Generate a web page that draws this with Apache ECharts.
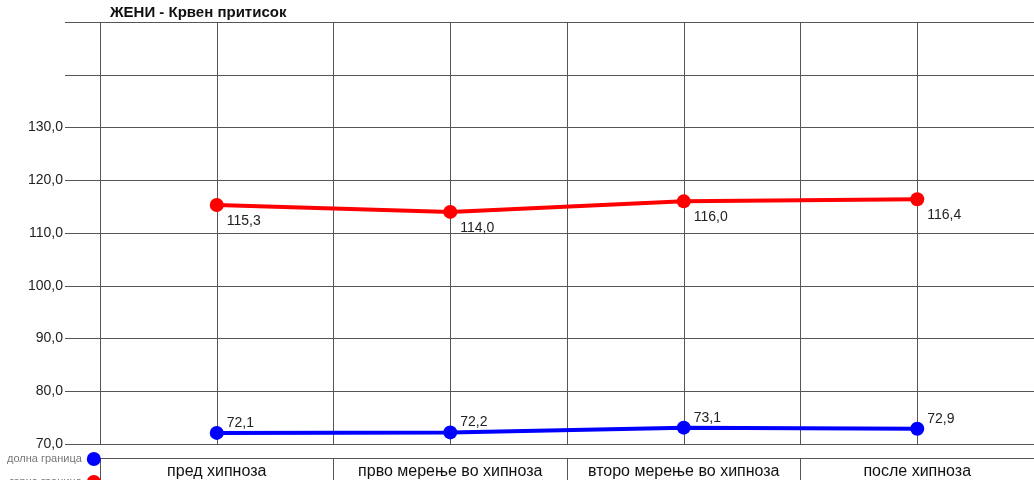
<!DOCTYPE html>
<html>
<head>
<meta charset="utf-8">
<script src="https://cdn.jsdelivr.net/npm/echarts@6/dist/echarts.min.js"></script>
<style>
  html, body { margin: 0; padding: 0; background: #fff; }
  #chart { width: 1034px; height: 480px; }
</style>
</head>
<body>
<div id="chart"></div>
<script>
// Blood pressure of women before, during and after hypnosis
const titleText = 'ЖЕНИ - Крвен притисок';
const categories = ['пред хипноза', 'прво мерење во хипноза', 'второ мерење во хипноза', 'после хипноза'];
const lowerName = 'долна граница';
const upperName = 'горна граница';
const lowerValues = [72.1, 72.2, 73.1, 72.9];
const upperValues = [115.3, 114.0, 116.0, 116.4];
const yLabelledMax = 130;

const fmt = v => v.toFixed(1).replace('.', ',');
const gridColor = '#555';
const textFont = 'Liberation Sans, Arial, sans-serif';
const yRange = { min: 70, max: 150, interval: 10 };

const chart = echarts.init(document.getElementById('chart'), null, { renderer: 'canvas' });

chart.setOption({
  animation: false,
  backgroundColor: '#fff',
  title: {
    text: titleText,
    left: 105, top: 0,
    textStyle: { fontFamily: textFont, fontSize: 15, fontWeight: 'bold', color: '#111' }
  },
  legend: {
    orient: 'vertical',
    left: 2, top: 447, height: 60,
    align: 'right',
    itemWidth: 14, itemHeight: 14, itemGap: 9,
    icon: 'circle',
    textStyle: { fontFamily: textFont, fontSize: 11, color: '#777' },
    data: [lowerName, upperName]
  },
  grid: [
    // narrow strip left of the plot: value labels and the gridline stubs
    { left: 65, width: 35, top: 22, bottom: 36 },
    // the plot itself
    { left: 100, right: -8, top: 22, bottom: 36 }
  ],
  xAxis: [
    {
      gridIndex: 0,
      type: 'value', min: 0, max: 1,
      axisLine: { show: false }, axisTick: { show: false },
      axisLabel: { show: false }, splitLine: { show: false }
    },
    {
      // positions of the measurements, with lines at centres and borders
      gridIndex: 1,
      type: 'value',
      min: -0.5, max: 3.5, interval: 0.5,
      axisLine: { show: true, lineStyle: { color: gridColor, width: 1 } },
      axisTick: { show: false },
      axisLabel: { show: false },
      splitLine: { show: true, lineStyle: { color: gridColor, width: 1 } }
    },
    {
      // category names in a row of cells under the plot
      gridIndex: 1,
      type: 'category',
      position: 'bottom',
      offset: 14,
      data: categories,
      boundaryGap: true,
      axisLine: { show: true, lineStyle: { color: gridColor, width: 1 } },
      axisTick: { show: true, length: 22, interval: 0, lineStyle: { color: gridColor, width: 1 } },
      axisLabel: { interval: 0, margin: 6, fontFamily: textFont, fontSize: 16, color: '#111' },
      splitLine: { show: false }
    }
  ],
  yAxis: [
    {
      gridIndex: 0,
      type: 'value',
      min: yRange.min, max: yRange.max, interval: yRange.interval,
      axisLine: { show: false },
      axisTick: { show: false },
      axisLabel: {
        margin: 2,
        fontFamily: textFont, fontSize: 14, color: '#222',
        formatter: v => (v <= yLabelledMax ? fmt(v) : '')
      },
      splitLine: { show: true, lineStyle: { color: gridColor, width: 1 } }
    },
    {
      gridIndex: 1,
      type: 'value',
      min: yRange.min, max: yRange.max, interval: yRange.interval,
      axisLine: { show: false },
      axisTick: { show: false },
      axisLabel: { show: false },
      splitLine: { show: true, lineStyle: { color: gridColor, width: 1 } }
    }
  ],
  series: [
    {
      name: lowerName,
      type: 'line',
      xAxisIndex: 1, yAxisIndex: 1,
      data: lowerValues.map((v, i) => [i, v]),
      color: '#0000ff',
      symbol: 'circle', symbolSize: 14,
      lineStyle: { width: 4, color: '#0000ff' },
      itemStyle: { color: '#0000ff' },
      label: {
        show: true,
        position: 'top',
        align: 'left',
        distance: 0,
        offset: [10, 4],
        fontFamily: textFont, fontSize: 14, color: '#222',
        formatter: p => fmt(p.value[1])
      },
      z: 3
    },
    {
      name: upperName,
      type: 'line',
      xAxisIndex: 1, yAxisIndex: 1,
      data: upperValues.map((v, i) => [i, v]),
      color: '#ff0000',
      symbol: 'circle', symbolSize: 14,
      lineStyle: { width: 4, color: '#ff0000' },
      itemStyle: { color: '#ff0000' },
      label: {
        show: true,
        position: 'bottom',
        align: 'left',
        distance: 2,
        offset: [10, 0],
        fontFamily: textFont, fontSize: 14, color: '#222',
        formatter: p => fmt(p.value[1])
      },
      z: 3
    }
  ]
});
</script>
</body>
</html>
